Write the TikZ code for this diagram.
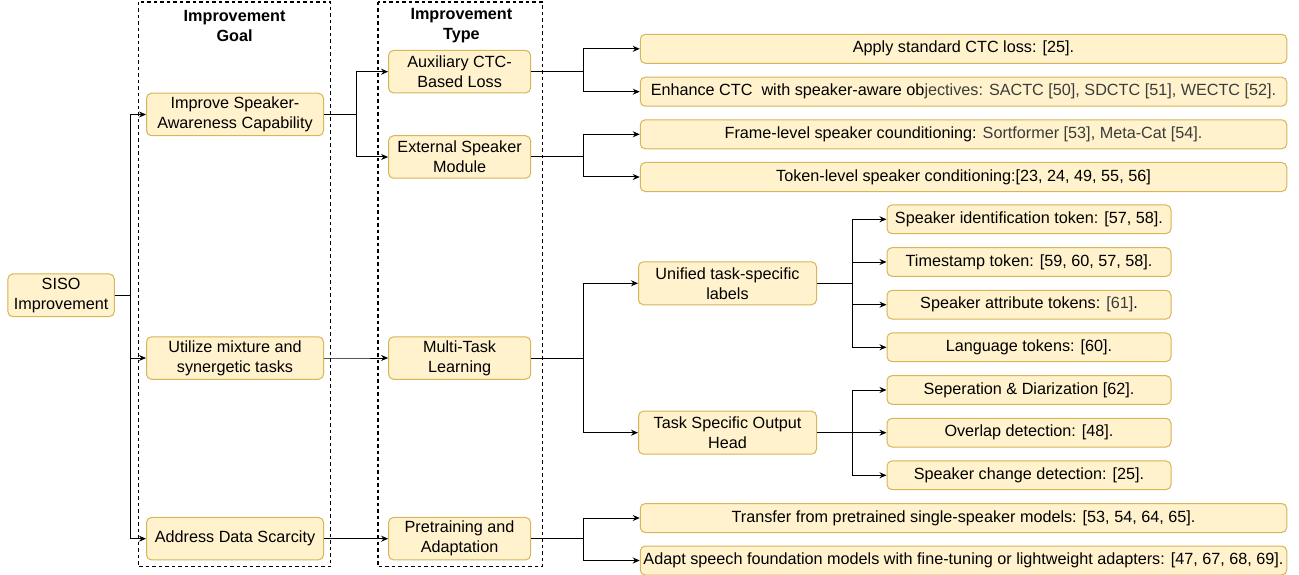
\documentclass[tikz,border=0pt]{standalone}
\usepackage{fontspec}
\setmainfont{Liberation Sans}
\usetikzlibrary{arrows.meta}
\definecolor{boxFill}{HTML}{FFF2CC}
\definecolor{boxLine}{HTML}{D6B656}
\definecolor{citeGray}{HTML}{3C3C3C}
\tikzstyle{diagram} = [x = 1pt, y = -1pt]
\tikzstyle{boxStyle} = [draw=boxLine, fill=boxFill, rounded corners = 5pt, line width = 1pt, align=center, inner sep=1pt, font=\fontsize{16.2}{20}\selectfont]
\tikzstyle{goalBox} = [boxStyle, minimum width = 177pt, minimum height = 42.5pt]
\tikzstyle{typeBox} = [boxStyle, minimum width = 142pt, minimum height = 42.5pt]
\tikzstyle{midBox} = [boxStyle, minimum width = 178pt, minimum height = 43pt]
\tikzstyle{wideLeaf} = [boxStyle, minimum width = 646.5pt, minimum height = 29pt]
\tikzstyle{smallLeaf} = [boxStyle, minimum width = 284pt, minimum height = 28.7pt]
\tikzstyle{columnFrame} = [draw=black, line width = 1.2pt, dash pattern = on 3.5pt off 3pt]
\tikzstyle{headerText} = [align=center, font=\bfseries\fontsize{16.2}{20}\selectfont]
\tikzstyle{connectorLine} = [draw=black, line width = 1pt, -{Stealth[length=7pt, width=6pt]}]
\newcommand{\wideLeafNode}[3]{\node [wideLeaf] (#1) at (963.5, #2) {#3};}
\newcommand{\smallLeafNode}[3]{\node [smallLeaf] (#1) at (1029, #2) {#3};}
\newcommand{\branchArrow}[3]{\draw [connectorLine] (#1.east) -- ++(#3,0) |- (#2.west);}

\begin{document}
\begin{tikzpicture}[diagram]
  \useasboundingbox (0,0) rectangle (1299,575);
  % column frames
  \draw [columnFrame] (138.6,2) rectangle (330.7,566.7);
  \draw [columnFrame] (377.9,2) rectangle (542.1,566.7);
  \node [headerText] (goalHead) at (234.6,26) {Improvement\\Goal};
  \node [headerText] (typeHead) at (461.4,26) {Improvement\\Type};
  % root and goals
  \node [boxStyle, minimum width = 106.4pt, minimum height = 42.7pt] (siso) at (61.1,295.3) {SISO\\Improvement};
  \node [goalBox] (awareness) at (235,114.5) {Improve Speaker-\\Awareness Capability};
  \node [goalBox] (mixture) at (235,358) {Utilize mixture and\\synergetic tasks};
  \node [goalBox] (scarcity) at (235,538.7) {Address Data Scarcity};
  % types
  \node [typeBox] (ctcLoss) at (459.6,71.7) {Auxiliary CTC-\\Based Loss};
  \node [typeBox] (speakerModule) at (459.6,157) {External Speaker\\Module};
  \node [typeBox] (multiTask) at (459.6,358) {Multi-Task\\Learning};
  \node [typeBox] (pretraining) at (459.6,538.7) {Pretraining and\\Adaptation};
  % multi-task methods
  \node [midBox] (unifiedLabels) at (727.5,283.3) {Unified task-specific\\labels};
  \node [midBox] (outputHead) at (727.5,432.7) {Task Specific Output\\Head};
  % wide leaves
  \wideLeafNode{standardCTC}{48.8}{Apply standard CTC loss: [25].}
  \wideLeafNode{enhanceCTC}{91.7}{Enhance CTC\ \ with speaker-aware ob{\color{citeGray}jectives: SACTC [50], SDCTC [51], WECTC [52].}}
  \wideLeafNode{frameLevel}{134.3}{Frame-level speaker counditioning: {\color{citeGray}Sortformer [53], Meta-Cat [54].}}
  \wideLeafNode{tokenLevel}{177}{Token-level speaker conditioning:[23, 24, 49, 55, 56]}
  \wideLeafNode{transferModels}{518}{Transfer from pretrained single-speaker models: [53, 54, 64, 65].}
  \wideLeafNode{adaptModels}{560.5}{Adapt speech foundation models with fine-tuning or lightweight adapters: [47, 67, 68, 69].}
  % small leaves
  \smallLeafNode{speakerId}{219.3}{Speaker identification token: [57, 58].}
  \smallLeafNode{timestamp}{262}{Timestamp token: [59, 60, 57, 58].}
  \smallLeafNode{attribute}{304.7}{Speaker attribute tokens: {\color{citeGray}[61]}.}
  \smallLeafNode{language}{347.3}{Language tokens: [60].}
  \smallLeafNode{separation}{390}{Seperation \& Diarization [62].}
  \smallLeafNode{overlap}{432.7}{Overlap detection: [48].}
  \smallLeafNode{speakerChange}{475.3}{Speaker change detection: [25].}
  % connectors
  \foreach \target in {awareness,mixture,scarcity} {
    \branchArrow{siso}{\target}{16.1}
  }
  \foreach \target in {ctcLoss,speakerModule} {
    \branchArrow{awareness}{\target}{32.8}
  }
  \branchArrow{mixture}{multiTask}{32.8}
  \branchArrow{scarcity}{pretraining}{32.8}
  \foreach \target in {standardCTC,enhanceCTC} {
    \branchArrow{ctcLoss}{\target}{52}
  }
  \foreach \target in {frameLevel,tokenLevel} {
    \branchArrow{speakerModule}{\target}{52}
  }
  \foreach \target in {unifiedLabels,outputHead} {
    \branchArrow{multiTask}{\target}{52}
  }
  \foreach \target in {transferModels,adaptModels} {
    \branchArrow{pretraining}{\target}{52}
  }
  \foreach \target in {speakerId,timestamp,attribute,language} {
    \branchArrow{unifiedLabels}{\target}{35.5}
  }
  \foreach \target in {separation,overlap,speakerChange} {
    \branchArrow{outputHead}{\target}{35.5}
  }
\end{tikzpicture}
\end{document}
